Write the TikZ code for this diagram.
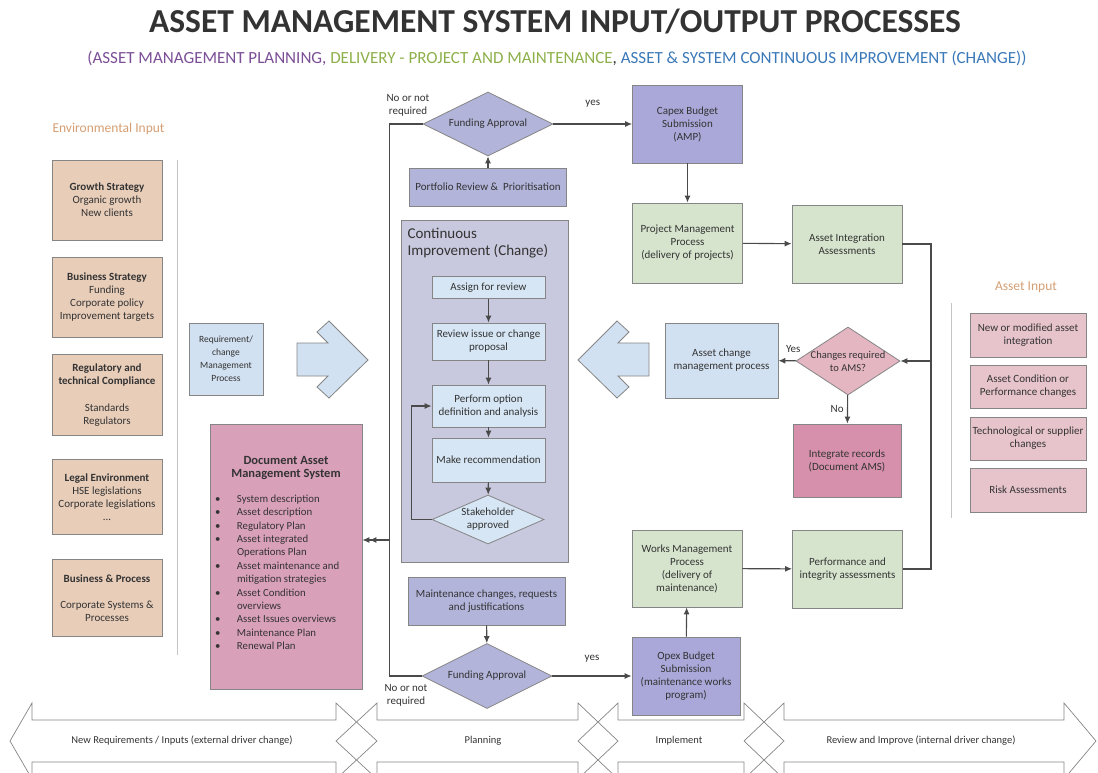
\documentclass[tikz,border=0pt]{standalone}
\usepackage{fontspec}
\setmainfont{Carlito}
\usetikzlibrary{arrows.meta, positioning, shapes.geometric}

\definecolor{textgray}{HTML}{333333}
\definecolor{boxline}{HTML}{858585}
\definecolor{flowline}{HTML}{4A4A4A}
\definecolor{sepgray}{HTML}{C4C4C4}
\definecolor{labelorange}{HTML}{D59E72}
\definecolor{tanfill}{HTML}{E8CDB9}
\definecolor{bluefill}{HTML}{D2E1F1}
\definecolor{stepfill}{HTML}{D6E6F4}
\definecolor{cifill}{HTML}{C8C8DE}
\definecolor{lavfill}{HTML}{B2B4DA}
\definecolor{budgetfill}{HTML}{A9A8D9}
\definecolor{greenfill}{HTML}{D6E4CD}
\definecolor{rosefill}{HTML}{D9A0B9}
\definecolor{recordfill}{HTML}{D690AB}
\definecolor{askfill}{HTML}{E4B6C2}
\definecolor{inputfill}{HTML}{E7C4CC}
\definecolor{planpurple}{HTML}{7B4F96}
\definecolor{delivgreen}{HTML}{8DB04A}
\definecolor{improveblue}{HTML}{3A78B8}

\begin{document}
\begin{tikzpicture}[x=1pt, y=-1pt,
        every node/.style={text=textgray},
        box/.style={rectangle, draw=boxline, line width=0.8pt, align=center, inner sep=2pt, font=\fontsize{11}{13}\selectfont},
        envbox/.style={box, fill=tanfill, minimum width=110},
        reqbox/.style={box, fill=bluefill},
        stepbox/.style={box, fill=stepfill, minimum width=113},
        lavbox/.style={box, fill=lavfill, minimum width=157},
        budget/.style={box, fill=budgetfill, minimum width=110, minimum height=78},
        delivery/.style={box, fill=greenfill, minimum width=110, minimum height=78},
        inputbox/.style={box, fill=inputfill, minimum width=116, minimum height=43},
        decision/.style={diamond, draw=boxline, line width=0.8pt, align=center, inner sep=0pt, aspect=2, font=\fontsize{11}{13}\selectfont},
        note/.style={align=center, font=\fontsize{11}{13}\selectfont},
        heading/.style={text=labelorange, font=\fontsize{13.5}{15}\selectfont},
        arrow/.style={-{Latex[length=7pt, width=6pt]}, line width=1.1pt, draw=flowline},
        link/.style={line width=1.1pt, draw=flowline},
        sep/.style={draw=sepgray, line width=1pt},
        band/.style={draw=boxline, line width=0.7pt},
        bandtext/.style={font=\fontsize{10.5}{12}\selectfont}
        ]
        \useasboundingbox (0,0) rectangle (1098,772);

        % Title
        \node (title) at (555,22) {\fontsize{33.5}{34}\selectfont\bfseries ASSET MANAGEMENT SYSTEM INPUT/OUTPUT PROCESSES};
        \node (subtitle) at (557,58) {\fontsize{17}{17}\selectfont
            \textcolor{planpurple}{(ASSET MANAGEMENT PLANNING,} \textcolor{delivgreen}{DELIVERY - PROJECT AND MAINTENANCE}, \textcolor{improveblue}{ASSET \& SYSTEM CONTINUOUS IMPROVEMENT (CHANGE))}};

        % Environmental input
        \node (envLabel) [heading, anchor=west] at (49,129) {Environmental Input};
        \draw [sep] (177,160) -- (177,655);
        \node (growth) [envbox, minimum height=80] at (107,200) {\textbf{Growth Strategy}\\Organic growth\\New clients};
        \node (bizStrategy) [envbox, minimum height=80] at (107,297) {\textbf{Business Strategy}\\Funding\\Corporate policy\\Improvement targets};
        \node (regulatory) [envbox, minimum height=81] at (107,395) {\textbf{Regulatory and}\\\textbf{technical Compliance}\\[14pt]Standards\\Regulators};
        \node (legal) [envbox, minimum height=75] at (107,497) {\textbf{Legal Environment}\\HSE legislations\\Corporate legislations\\...};
        \node (bizProcess) [envbox, minimum height=77] at (107,598) {\textbf{Business \& Process}\\[13pt]Corporate Systems \&\\Processes};

        % Requirement management and documented system
        \node (requirement) [reqbox, minimum width=74, minimum height=72, font=\fontsize{9.5}{13}\selectfont] at (226,359) {Requirement/\\change\\Management\\Process};
        \filldraw [fill=bluefill, draw=boxline, line width=0.8pt]
            (297,343) -- (328,343) -- (317,332) -- (329,321) -- (368,360) -- (329,398) -- (317,387) -- (328,376) -- (297,376) -- cycle;
        \node (dams) [box, fill=rosefill, minimum width=152, minimum height=265, font=\fontsize{10.8}{13.4}\selectfont] at (286,557) {%
            \begin{tabular}{@{}p{22pt}@{}p{120pt}@{}}
            \multicolumn{2}{@{}c@{}}{\fontsize{12.5}{15}\selectfont\bfseries Document Asset}\\
            \multicolumn{2}{@{}c@{}}{\fontsize{12.5}{15}\selectfont\bfseries Management System}\\[11pt]
            \textbullet & System description\\
            \textbullet & Asset description\\
            \textbullet & Regulatory Plan\\
            \textbullet & Asset integrated\\
                        & Operations Plan\\
            \textbullet & Asset maintenance and\\
                        & mitigation strategies\\
            \textbullet & Asset Condition\\
                        & overviews\\
            \textbullet & Asset Issues overviews\\
            \textbullet & Maintenance Plan\\
            \textbullet & Renewal Plan\\[5pt]
            \end{tabular}};

        % Planning column
        \node (fundTop) [decision, fill=lavfill, minimum width=130, minimum height=64] at (488,124) {Funding Approval};
        \node (noTop) [note] at (408,105) {No or not\\required};
        \node (portfolio) [lavbox, minimum height=38] at (488,187) {Portfolio Review \&\ \ Prioritisation};
        \node (ci) [box, fill=cifill, minimum width=167, minimum height=342] at (484.5,391) {};
        \node (ciTitle) [anchor=north west, align=left, font=\fontsize{15}{17}\selectfont] at (404,225) {Continuous\\Improvement (Change)};
        \node (assign) [stepbox, minimum height=22] at (488.5,287.5) {Assign for review};
        \node (reviewIssue) [stepbox, minimum height=37] at (488.5,341.5) {Review issue or change\\proposal};
        \node (perform) [stepbox, minimum height=42] at (488.5,406) {Perform option\\definition and analysis};
        \node (recommend) [stepbox, minimum height=44] at (488.5,460) {Make recommendation};
        \node (stakeholder) [decision, fill=stepfill, minimum width=112, minimum height=41] at (488,519.5) {Stakeholder\\approved};
        \node (maint) [lavbox, minimum height=48] at (486.5,601) {Maintenance changes, requests\\and justifications};
        \node (fundBottom) [decision, fill=lavfill, minimum width=130, minimum height=65] at (487,676) {Funding Approval};
        \node (noBottom) [note] at (406,695) {No or not\\required};

        % Delivery column
        \node (capex) [budget] at (687.5,124) {Capex Budget\\Submission\\(AMP)};
        \node (project) [delivery, minimum height=80] at (687.5,243) {Project Management\\Process\\(delivery of projects)};
        \node (integration) [delivery] at (847,244) {Asset Integration\\Assessments};
        \filldraw [fill=bluefill, draw=boxline, line width=0.8pt]
            (649,343) -- (618,343) -- (629,332) -- (617,321) -- (578,360) -- (617,398) -- (629,387) -- (618,376) -- (649,376) -- cycle;
        \node (assetChange) [reqbox, minimum width=113, minimum height=75] at (721.5,360.5) {Asset change\\management process};
        \node (changes) [decision, fill=askfill, minimum width=104, minimum height=68, inner sep=-8pt, font=\fontsize{10.5}{13}\selectfont] at (848,361) {Changes required\\to AMS?};
        \node (records) [box, fill=recordfill, minimum width=108, minimum height=73] at (847,460.5) {Integrate records\\(Document AMS)};
        \node (works) [delivery, minimum height=77] at (687,568.5) {Works Management\\Process\\(delivery of\\maintenance)};
        \node (perf) [delivery] at (847.5,569) {Performance and\\integrity assessments};
        \node (opex) [budget, minimum width=108] at (686,676) {Opex Budget\\Submission\\(maintenance works\\program)};

        % Asset input
        \node (assetLabel) [heading] at (1026,287) {Asset Input};
        \draw [sep] (951,303) -- (951,518);
        \node (input1) [inputbox, minimum height=44] at (1028,335) {New or modified asset\\integration};
        \node (input2) [inputbox] at (1028,386.5) {Asset Condition or\\Performance changes};
        \node (input3) [inputbox] at (1028,438.5) {Technological or supplier\\changes};
        \node (input4) [inputbox, minimum height=44] at (1028,490) {Risk Assessments};

        % Arrows
        \draw [arrow] (portfolio) -- (fundTop);
        \draw [arrow] (fundTop) -- node[midway, above=13pt, note] {yes} (capex);
        \draw [arrow] (capex) -- (project);
        \draw [arrow] (project) -- (integration);
        \draw [arrow] (assign) -- (reviewIssue);
        \draw [arrow] (reviewIssue) -- (perform);
        \draw [arrow] (perform) -- (recommend);
        \draw [arrow] (recommend) -- (stakeholder);
        \draw [arrow] (stakeholder.west) -- ++(-20,0) |- (perform.west);
        \draw [arrow] (maint) -- (fundBottom);
        \draw [arrow] (fundBottom) -- node[midway, above=10pt, note] {yes} (opex);
        \draw [arrow] (opex) -- (works);
        \draw [arrow] (works) -- (perf);

        % not funded: back to the documented system
        \coordinate (loopTap) at (390,540);
        \draw [link] (fundTop.west) -- ++(-33,0) |- (fundBottom.west);
        \draw [link, -{Latex[length=7pt, width=6pt] Latex[length=7pt, width=6pt]}] (loopTap) -- (loopTap -| dams.east);

        % assessments feed the change question
        \coordinate (busTap) at (931,361);
        \draw [link] (integration.east) -| (busTap) |- (perf.east);
        \draw [arrow] (busTap) -- (changes.east);
        \draw [arrow] (changes) -- node[pos=0.15, above=4pt, note] {Yes} (assetChange);
        \draw [arrow] (changes) -- node[midway, left, note] {No} (records);

        % Phase band
        \draw [band] (10,741) -- (32,703) -- (32,720) -- (336,720) -- (336,703) -- (377,741) -- (336,779) -- (336,762) -- (32,762) -- (32,779) -- cycle;
        \draw [band] (336,741) -- (377,703) -- (377,720) -- (578,720) -- (578,703) -- (618,741) -- (578,779) -- (578,762) -- (377,762) -- (377,779) -- cycle;
        \draw [band] (578,741) -- (618,703) -- (618,720) -- (744,720) -- (744,703) -- (784,741) -- (744,779) -- (744,762) -- (618,762) -- (618,779) -- cycle;
        \draw [band] (744,741) -- (784,703) -- (784,720) -- (1064,720) -- (1064,703) -- (1096,741) -- (1064,779) -- (1064,762) -- (784,762) -- (784,779) -- cycle;
        \node (phaseInputs) [bandtext] at (182,741) {New Requirements / Inputs (external driver change)};
        \node (phasePlan) [bandtext] at (483,741) {Planning};
        \node (phaseDo) [bandtext] at (679,741) {Implement};
        \node (phaseReview) [bandtext] at (921,741) {Review and Improve (internal driver change)};

    \end{tikzpicture}
\end{document}
